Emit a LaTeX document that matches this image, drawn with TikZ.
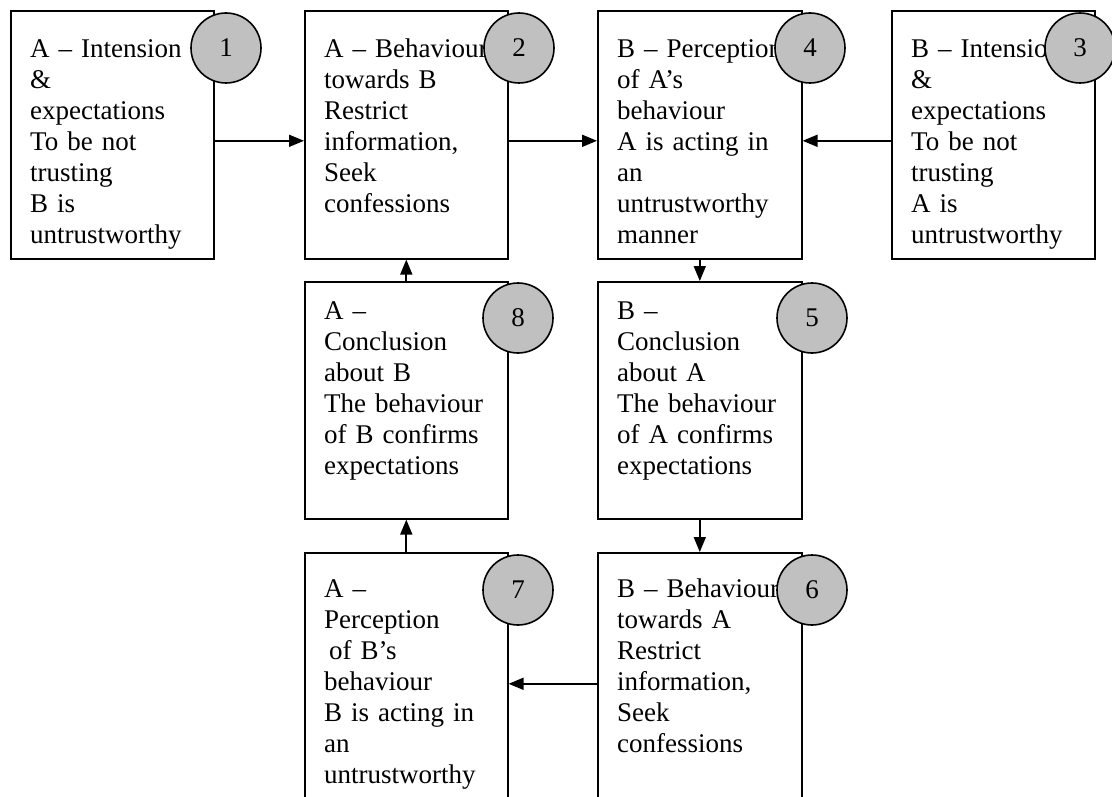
\documentclass[tikz,border=0pt]{standalone}
\usepackage{fontspec}
\setmainfont{Liberation Serif}
\usetikzlibrary{arrows.meta}
\definecolor{circgray}{RGB}{192,192,192}
\begin{document}
\begin{tikzpicture}[x=1pt,y=-1pt,
  box/.style={draw=black, line width=1.6pt, anchor=north west, inner sep=0pt, minimum width=203pt},
  txt/.style={anchor=north west, inner sep=0pt, text width=260pt, align=left, font=\fontsize{27}{31}\selectfont},
  num/.style={circle, draw=black, line width=1.6pt, fill=circgray, minimum size=70pt, inner sep=0pt, font=\fontsize{27}{31}\selectfont},
  arr/.style={line width=1.7pt, -{Triangle[length=15pt,width=12pt]}}]
\useasboundingbox (0,0) rectangle (1112,797);
\clip (0,0) rectangle (1112,797);

% boxes
\node[box, minimum height=248pt] (b1) at (10,10) {};
\node[box, minimum height=248pt] (b2) at (304,10) {};
\node[box, minimum height=248pt, minimum width=204pt] (b4) at (597,10) {};
\node[box, minimum height=248pt] (b3) at (891,10) {};
\node[box, minimum height=237pt] (b8) at (304,281) {};
\node[box, minimum height=237pt, minimum width=204pt] (b5) at (597,281) {};
\node[box, minimum height=262pt] (b7) at (304,552) {};
\node[box, minimum height=262pt, minimum width=204pt] (b6) at (597,552) {};

% texts
\node[txt] (t1) at ([xshift=20pt,yshift=-25.8pt]b1.north west) {\strut A – Intension\\\&\\expectations\\To be not\\trusting\\B is\\untrustworthy};
\node[txt] (t2) at ([xshift=20pt,yshift=-25.8pt]b2.north west) {\strut A – Behaviour\\towards B\\Restrict\\information,\\Seek\\confessions};
\node[txt] (t4) at ([xshift=20pt,yshift=-25.8pt]b4.north west) {\strut B – Perception\\of A’s\\behaviour\\A is acting in\\an\\untrustworthy\\manner};
\node[txt] (t3) at ([xshift=20pt,yshift=-25.8pt]b3.north west) {\strut B – Intension\\\&\\expectations\\To be not\\trusting\\A is\\untrustworthy};
\node[txt] (t8) at ([xshift=20pt,yshift=-16.3pt]b8.north west) {\strut A –\\Conclusion\\about B\\The behaviour\\of B confirms\\expectations};
\node[txt] (t5) at ([xshift=20pt,yshift=-16.3pt]b5.north west) {\strut B –\\Conclusion\\about A\\The behaviour\\of A confirms\\expectations};
\node[txt] (t7) at ([xshift=20pt,yshift=-23.3pt]b7.north west) {\strut A –\\Perception\\\hspace*{5pt}of B’s\\behaviour\\B is acting in\\an\\untrustworthy};
\node[txt] (t6) at ([xshift=20pt,yshift=-23.3pt]b6.north west) {\strut B – Behaviour\\towards A\\Restrict\\information,\\Seek\\confessions};

% number circles
\node[num] (c1) at (226,48) {1};
\node[num] (c2) at (519,48) {2};
\node[num] (c4) at (810,48) {4};
\node[num] (c3) at (1080,48) {3};
\node[num] (c8) at (518,318) {8};
\node[num] (c5) at (812,318) {5};
\node[num] (c7) at (518,590) {7};
\node[num] (c6) at (812,590) {6};

% arrows
\draw[arr] ([yshift=-6pt]b1.east) -- ([yshift=-6pt]b2.west);
\draw[arr] ([yshift=-6pt]b2.east) -- ([yshift=-6pt]b4.west);
\draw[arr] ([yshift=-6pt]b3.west) -- ([yshift=-6pt]b4.east);
\draw[arr] (b4.south) -- (b5.north);
\draw[arr] (b8.north) -- (b2.south);
\draw[arr] (b5.south) -- (b6.north);
\draw[arr] (b7.north) -- (b8.south);
\draw[arr] (b6.west) -- (b7.east);
\end{tikzpicture}
\end{document}
